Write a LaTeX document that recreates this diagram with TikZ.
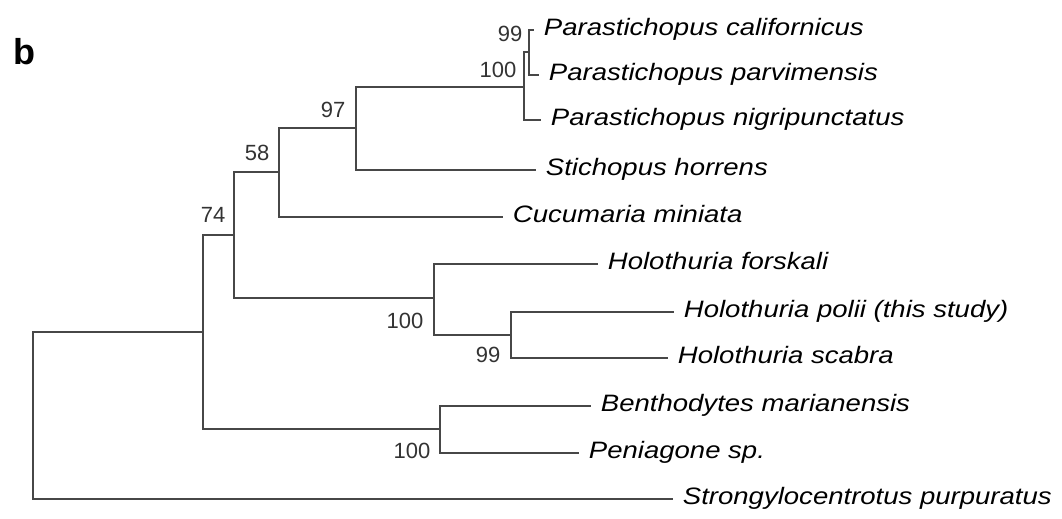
\documentclass[tikz,border=0pt]{standalone}
\usepackage{fontspec}
\setmainfont{Liberation Sans}
\newfontfamily\leaffont[FakeStretch=1.16]{Liberation Sans}
\usepackage{tikz}
\usetikzlibrary{positioning,calc}

\tikzset{
  branch/.style={line width=1.3pt, black!72, line cap=rect},
  leaf/.style={anchor=west, inner xsep=8pt, inner ysep=0pt, text height=12.6pt, text depth=4.5pt,
    font=\leaffont\itshape\fontsize{17.8}{20}\selectfont},
  boot/.style={inner sep=0pt, text=black!80, font=\fontsize{16.5}{18}\selectfont}
}

\begin{document}
\begin{tikzpicture}[x=0.75pt,y=-0.75pt]
\useasboundingbox (0,0) rectangle (1062,518);
% panel letter
\node[font=\bfseries\fontsize{27}{27}\selectfont, inner sep=0pt] (panel) at (24,52) {b};
% leaves
\foreach \n/\x/\y/\t in {pcal/533/30/Parastichopus californicus,
    ppar/538/75/Parastichopus parvimensis,
    pnig/540/120/Parastichopus nigripunctatus,
    shor/535/170/Stichopus horrens,
    cmin/502/217/Cucumaria miniata,
    hfor/597/264/Holothuria forskali,
    hpol/673/312/Holothuria polii (this study),
    hsca/667/358/Holothuria scabra,
    bmar/590/406/Benthodytes marianensis,
    pen/578/453/Peniagone sp.,
    spur/672/499/Strongylocentrotus purpuratus} {
  \node[leaf] (\n) at (\x,\y) {\t};
}
% internal nodes
\coordinate (n99a) at (529,52);
\coordinate (n100a) at (524,87);
\coordinate (n97) at (356,128);
\coordinate (n58) at (279,172);
\coordinate (n99b) at (511,335);
\coordinate (n100b) at (434,298);
\coordinate (n74) at (234,235);
\coordinate (n100c) at (440,429);
\coordinate (nbb) at (203,332);
\coordinate (root) at (33,415);
% branches
\draw[branch] (pcal.west) -| (n99a) |- (ppar.west);
\draw[branch] (n99a) -| (n100a) |- (pnig.west);
\draw[branch] (n100a) -| (n97) |- (shor.west);
\draw[branch] (n97) -| (n58) |- (cmin.west);
\draw[branch] (hpol.west) -| (n99b) |- (hsca.west);
\draw[branch] (hfor.west) -| (n100b) |- (n99b);
\draw[branch] (n58) -| (n74) |- (n100b);
\draw[branch] (bmar.west) -| (n100c) |- (pen.west);
\draw[branch] (n74) -| (nbb) |- (n100c);
\draw[branch] (nbb) -| (root) |- (spur.west);
% bootstrap values
\node[boot] (s99a) at (510,34) {99};
\node[boot] (s100a) at (498,70) {100};
\node[boot] (s97) at (333,110) {97};
\node[boot] (s58) at (257,153) {58};
\node[boot] (s74) at (213,215) {74};
\node[boot] (s100b) at (405,321) {100};
\node[boot] (s99b) at (488,355) {99};
\node[boot] (s100c) at (412,451) {100};
\end{tikzpicture}
\end{document}
